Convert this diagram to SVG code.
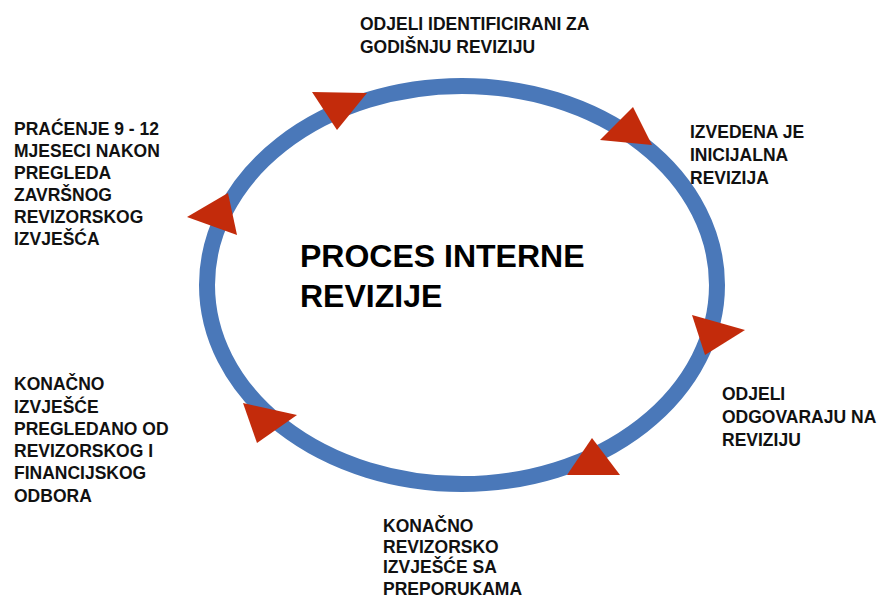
<svg xmlns="http://www.w3.org/2000/svg" width="880" height="595" viewBox="0 0 880 595">
<style>
.lbl{font-family:"Liberation Sans",Arial,sans-serif;font-weight:bold;font-size:17.5px;fill:#111}
.title{font-family:"Liberation Sans",Arial,sans-serif;font-weight:bold;font-size:32px;fill:#000}
.ring{fill:none;stroke:#4a78b9;stroke-width:16}
.head{fill:#c32b0b}
</style>
<rect width="880" height="595" fill="#fff"/>
<g id="connectors">
<ellipse class="ring" cx="462" cy="285" rx="255" ry="199"/>
<polygon class="head" points="312,92 367,93 337,130"/>
<polygon class="head" points="633,107 600,140 652,145"/>
<polygon class="head" points="692,315 745,330 705,355"/>
<polygon class="head" points="592,438 567,475 620,475"/>
<polygon class="head" points="243,403 297,415 257,443"/>
<polygon class="head" points="187,217 228,193 237,235"/>
</g>
<g id="center">
<text class="title" x="300" y="267">PROCES INTERNE</text>
<text class="title" x="300" y="307">REVIZIJE</text>
</g>
<g id="n1">
<text class="lbl" x="360" y="30">ODJELI IDENTIFICIRANI ZA</text>
<text class="lbl" x="360" y="53">GODIŠNJU REVIZIJU</text>
</g>
<g id="n2">
<text class="lbl" x="690" y="138">IZVEDENA JE</text>
<text class="lbl" x="690" y="161">INICIJALNA</text>
<text class="lbl" x="690" y="184">REVIZIJA</text>
</g>
<g id="n3">
<text class="lbl" x="722" y="400">ODJELI</text>
<text class="lbl" x="722" y="423">ODGOVARAJU NA</text>
<text class="lbl" x="722" y="446">REVIZIJU</text>
</g>
<g id="n4">
<text class="lbl" x="383" y="532">KONAČNO</text>
<text class="lbl" x="383" y="553">REVIZORSKO</text>
<text class="lbl" x="383" y="573">IZVJEŠĆE SA</text>
<text class="lbl" x="383" y="595">PREPORUKAMA</text>
</g>
<g id="n5">
<text class="lbl" x="14" y="390">KONAČNO</text>
<text class="lbl" x="14" y="413">IZVJEŠĆE</text>
<text class="lbl" x="14" y="435">PREGLEDANO OD</text>
<text class="lbl" x="14" y="457">REVIZORSKOG I</text>
<text class="lbl" x="14" y="479">FINANCIJSKOG</text>
<text class="lbl" x="14" y="502">ODBORA</text>
</g>
<g id="n6">
<text class="lbl" x="14" y="135">PRAĆENJE 9 - 12</text>
<text class="lbl" x="14" y="157">MJESECI NAKON</text>
<text class="lbl" x="14" y="179">PREGLEDA</text>
<text class="lbl" x="14" y="201">ZAVRŠNOG</text>
<text class="lbl" x="14" y="223">REVIZORSKOG</text>
<text class="lbl" x="14" y="245">IZVJEŠĆA</text>
</g>
</svg>
